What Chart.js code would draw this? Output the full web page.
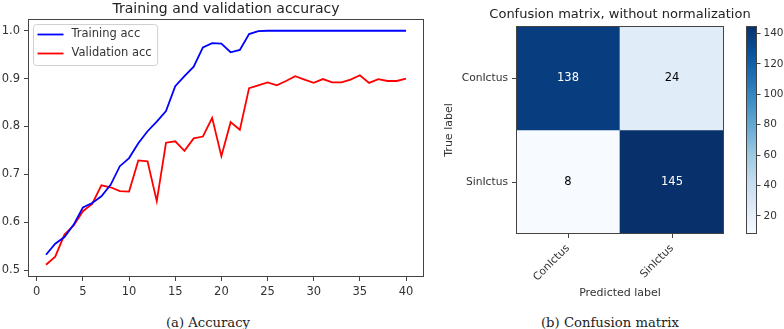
<!DOCTYPE html>
<html><head><meta charset="utf-8">
<script src="https://cdn.jsdelivr.net/npm/chart.js@4.4.1/dist/chart.umd.min.js"></script>
<style>
html,body{margin:0;padding:0;background:#fff;width:784px;height:329px;overflow:hidden;position:relative;}
.c{position:absolute;}
.cap{position:absolute;font-family:"DejaVu Serif",serif;font-size:13.2px;color:#222;white-space:nowrap;transform:translate(-50%,-50%);}
</style></head><body>
<canvas id="acc" class="c" style="left:0;top:0" width="428" height="300"></canvas>
<canvas id="cm" class="c" style="left:430px;top:0" width="380" height="300"></canvas>
<canvas id="cb" class="c" style="left:740px;top:0" width="44" height="300"></canvas>
<div class="cap" style="left:208px;top:322px">(a) Accuracy</div>
<div class="cap" style="left:610px;top:322px">(b) Confusion matrix</div>
<script>
// ---- data ----
const epochs = [1,2,3,4,5,6,7,8,9,10,11,12,13,14,15,16,17,18,19,20,21,22,23,24,25,26,27,28,29,30,31,32,33,34,35,36,37,38,39,40];
const trainingAcc = [0.532,0.555,0.569,0.595,0.631,0.640,0.654,0.678,0.717,0.734,0.765,0.790,0.810,0.832,0.884,0.905,0.925,0.965,0.974,0.973,0.955,0.960,0.993,0.999,1.0,1.0,1.0,1.0,1.0,1.0,1.0,1.0,1.0,1.0,1.0,1.0,1.0,1.0,1.0,1.0];
const validationAcc = [0.511,0.528,0.574,0.593,0.623,0.638,0.677,0.673,0.665,0.664,0.729,0.727,0.644,0.766,0.769,0.749,0.775,0.779,0.818,0.738,0.809,0.793,0.880,0.886,0.892,0.886,0.895,0.905,0.898,0.891,0.899,0.892,0.892,0.898,0.907,0.891,0.899,0.895,0.895,0.900];
const accXTicks = [0,5,10,15,20,25,30,35,40];
const accYTicks = [0.5,0.6,0.7,0.8,0.9,1.0];
const classLabels = ["ConIctus","SinIctus"];
const confusionRow0 = [138,24];
const confusionRow1 = [8,145];
const colorbarTicks = [20,40,60,80,100,120,140];

// ---- helpers ----
const matrix = [confusionRow0, confusionRow1];
const allVals = matrix.flat();
const vmin = Math.min(...allVals), vmax = Math.max(...allVals);
const bluesStops = ["#f7fbff","#deebf7","#c6dbef","#9ecae1","#6baed6","#4292c6","#2171b5","#08519c","#08306b"];
function hex(h){return [parseInt(h.slice(1,3),16),parseInt(h.slice(3,5),16),parseInt(h.slice(5,7),16)];}
function blues(t){
  t=Math.max(0,Math.min(1,t));
  const n=bluesStops.length-1, p=t*n, i=Math.min(n-1,Math.floor(p)), f=p-i;
  const a=hex(bluesStops[i]), b=hex(bluesStops[i+1]);
  return 'rgb('+a.map((v,k)=>Math.round(v+(b[k]-v)*f)).join(',')+')';
}
const FONT = '"DejaVu Sans", sans-serif';
const TXT = '#333';
const AX = '#444';

const frame = {
  id:'frame',
  afterDraw(chart){
    const {ctx, chartArea:a} = chart;
    ctx.save(); ctx.strokeStyle=AX; ctx.lineWidth=1;
    ctx.strokeRect(Math.round(a.left)+0.5, Math.round(a.top)+0.5, Math.round(a.right-a.left)-1, Math.round(a.bottom-a.top)-1);
    ctx.restore();
  }
};
const boxLegend = {
  id:'boxLegend',
  afterDraw(chart){
    const {ctx, chartArea:a} = chart;
    const ds = chart.data.datasets;
    ctx.save();
    ctx.font = '11.5px ' + FONT;
    const tw = Math.max(...ds.map(d=>ctx.measureText(d.label).width));
    const x0=a.left+5.5, y0=a.top+5.5, w=38+tw+6, h=10+19*(ds.length-1)+12;
    ctx.beginPath();
    if (ctx.roundRect) ctx.roundRect(x0,y0,w,h,3); else ctx.rect(x0,y0,w,h);
    ctx.fillStyle='rgba(255,255,255,0.85)'; ctx.fill();
    ctx.strokeStyle='#d0d0d0'; ctx.lineWidth=1; ctx.stroke();
    ds.forEach((d,i)=>{
      const y=y0+10+19*i;
      ctx.beginPath(); ctx.moveTo(x0+4,y); ctx.lineTo(x0+30,y);
      ctx.strokeStyle=d.borderColor; ctx.lineWidth=1.8; ctx.stroke();
      ctx.fillStyle=TXT; ctx.textBaseline='middle'; ctx.textAlign='left';
      ctx.fillText(d.label, x0+38, y);
    });
    ctx.restore();
  }
};
const cellText = {
  id:'cellText',
  afterDatasetsDraw(chart){
    const {ctx} = chart; const xs=chart.scales.x, ys=chart.scales.y;
    ctx.save(); ctx.font='11.5px '+FONT; ctx.textAlign='center'; ctx.textBaseline='middle';
    matrix.forEach((row,r)=>row.forEach((v,c)=>{
      ctx.fillStyle = v > vmax/2 ? '#fff' : '#000';
      ctx.fillText(String(v), xs.getPixelForValue(c), ys.getPixelForValue(r));
    }));
    ctx.restore();
  }
};

// ---- accuracy chart ----
new Chart(document.getElementById('acc'), {
  type:'line',
  data:{datasets:[
    {label:'Training acc', data:epochs.map((e,i)=>({x:e,y:trainingAcc[i]})), borderColor:'#0000ff', borderWidth:1.8, pointRadius:0, tension:0, fill:false},
    {label:'Validation acc', data:epochs.map((e,i)=>({x:e,y:validationAcc[i]})), borderColor:'#ff0000', borderWidth:1.8, pointRadius:0, tension:0, fill:false}
  ]},
  options:{
    responsive:false, animation:false, events:[],
    layout:{padding:{left:0,right:4,top:0,bottom:0}},
    plugins:{
      legend:{display:false}, tooltip:{enabled:false},
      title:{display:true, text:'Training and validation accuracy', fullSize:false, color:'#222',
        font:{family:FONT,size:14,weight:'normal'}, padding:{top:0.6,bottom:1.6}}
    },
    scales:{
      x:{type:'linear', min:-0.95, max:41.95,
        afterBuildTicks:s=>{s.ticks=accXTicks.map(v=>({value:v}));},
        afterFit:s=>{s.height=23;},
        ticks:{color:TXT, font:{family:FONT,size:11.5}, padding:4, maxRotation:0, autoSkip:false, callback:v=>String(v)},
        grid:{drawOnChartArea:false, drawTicks:true, tickLength:4, color:AX},
        border:{display:false}},
      y:{type:'linear', min:0.4855, max:1.0245,
        afterBuildTicks:s=>{s.ticks=accYTicks.map(v=>({value:v}));},
        afterFit:s=>{s.width=28;},
        ticks:{color:TXT, font:{family:FONT,size:11.5}, padding:4, autoSkip:false, callback:v=>v.toFixed(1)},
        grid:{drawOnChartArea:false, drawTicks:true, tickLength:4, color:AX},
        border:{display:false}}
    }
  },
  plugins:[frame, boxLegend]
});

// ---- confusion matrix ----
new Chart(document.getElementById('cm'), {
  type:'bar',
  data:{labels:classLabels, datasets:matrix.map((row,r)=>({
    label:classLabels[r],
    data:row.map(()=>[r-0.5, r+0.5]),
    backgroundColor:row.map(v=>blues((v-vmin)/(vmax-vmin))),
    borderWidth:0, barPercentage:1, categoryPercentage:1, grouped:false
  }))},
  options:{
    responsive:false, animation:false, events:[],
    layout:{padding:{left:0,right:0,top:0,bottom:0}},
    plugins:{
      legend:{display:false}, tooltip:{enabled:false},
      title:{display:true, text:'Confusion matrix, without normalization', fullSize:true, color:'#222',
        font:{family:FONT,size:13,weight:'normal'}, padding:{top:7.2,bottom:3.2}}
    },
    scales:{
      x:{type:'category', offset:true,
        afterFit:s=>{s.height=66;},
        ticks:{color:TXT, font:{family:FONT,size:10.7}, padding:4, minRotation:45, maxRotation:45, autoSkip:false},
        grid:{offset:false, drawOnChartArea:false, drawTicks:true, tickLength:4, color:AX},
        border:{display:false},
        title:{display:true, text:'Predicted label', color:TXT, font:{family:FONT,size:11}, padding:{top:0,bottom:0}}},
      y:{type:'linear', min:-0.5, max:1.5, reverse:true,
        afterBuildTicks:s=>{s.ticks=classLabels.map((l,i)=>({value:i}));},
        afterFit:s=>{s.width=86;},
        ticks:{color:TXT, font:{family:FONT,size:10.7}, padding:4, autoSkip:false, callback:v=>classLabels[v]},
        grid:{drawOnChartArea:false, drawTicks:true, tickLength:4, color:AX},
        border:{display:false},
        title:{display:true, text:'True label', color:TXT, font:{family:FONT,size:11}, padding:{top:12.4,bottom:0}}},
      ySpacer:{type:'linear', position:'right', display:true, min:0, max:1,
        afterFit:s=>{s.width=86;},
        ticks:{display:false}, grid:{display:false}, border:{display:false}}
    }
  },
  plugins:[frame, cellText]
});

// ---- colorbar ----
new Chart(document.getElementById('cb'), {
  type:'bar',
  data:{labels:[''], datasets:[{
    data:[[vmin,vmax]], borderWidth:0, barPercentage:1, categoryPercentage:1,
    backgroundColor:(c)=>{
      const ch=c.chart, ys=ch.scales.y;
      if(!ys) return blues(0.5);
      const y0=ys.getPixelForValue(vmin), y1=ys.getPixelForValue(vmax);
      if(!isFinite(y0)||!isFinite(y1)||y0===y1) return blues(0.5);
      const g=ch.ctx.createLinearGradient(0,y0,0,y1);
      for(let i=0;i<=32;i++) g.addColorStop(i/32, blues(i/32));
      return g;
    }
  }]},
  options:{
    responsive:false, animation:false, events:[],
    layout:{padding:{left:6,right:0,top:26,bottom:66}},
    plugins:{legend:{display:false}, tooltip:{enabled:false}},
    scales:{
      x:{display:false, offset:true},
      y:{type:'linear', position:'right', min:vmin, max:vmax,
        afterBuildTicks:s=>{s.ticks=colorbarTicks.map(v=>({value:v}));},
        afterFit:s=>{s.width=27;},
        ticks:{color:TXT, font:{family:FONT,size:10.5}, padding:3, autoSkip:false},
        grid:{drawOnChartArea:false, drawTicks:true, tickLength:3.5, color:AX},
        border:{display:false}}
    }
  },
  plugins:[frame]
});
</script>
</body></html>
